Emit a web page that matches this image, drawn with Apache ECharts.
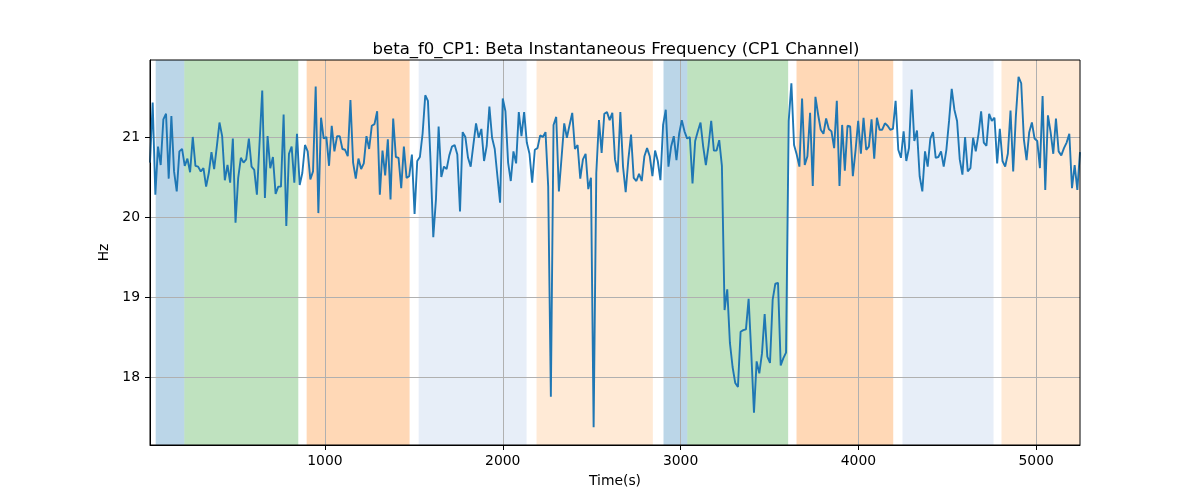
<!DOCTYPE html>
<html>
<head>
<meta charset="utf-8">
<script src="https://cdn.jsdelivr.net/npm/echarts@6/dist/echarts.min.js"></script>
<style>
html,body{margin:0;padding:0;background:#fff;}
#chart{width:1200px;height:500px;}
</style>
</head>
<body>
<div id="chart"></div>
<script>
// Sampling grid of the instantaneous-frequency trace (seconds)
const T0 = 16;
const DT = 15.03;

// Beta instantaneous frequency (Hz), one value per sample
const VALUES = [
  20.68, 21.43, 20.28, 20.88, 20.65, 21.22, 21.29, 20.48, 21.26, 20.57,
  20.32, 20.82, 20.85, 20.64, 20.73, 20.56, 21.00, 20.64, 20.63, 20.57,
  20.61, 20.38, 20.55, 20.81, 20.60, 20.88, 21.18, 21.01, 20.46, 20.65,
  20.43, 20.98, 19.93, 20.49, 20.74, 20.68, 20.72, 20.98, 20.63, 20.59,
  20.28, 20.93, 21.58, 20.24, 21.01, 20.61, 20.75, 20.29, 20.38, 20.38,
  21.28, 19.89, 20.79, 20.88, 20.43, 21.04, 20.40, 20.55,

  20.90, 20.82, 20.47, 20.57, 21.63, 20.05, 21.24, 20.98, 21.00, 20.64,
  21.14, 20.82, 21.01, 21.01, 20.85, 20.84, 20.76, 21.46, 20.68, 20.48,
  20.73, 20.60, 20.67, 21.01, 20.85, 21.14, 21.16, 21.32, 20.28, 20.83,
  20.52, 20.97, 20.22, 21.23, 20.75, 20.74, 20.36, 20.88, 20.49, 20.51,
  20.78, 20.04, 20.70, 20.75, 21.04, 21.52, 21.45, 20.68, 19.75, 20.22,
  21.13, 20.50, 20.63, 20.60, 20.77, 20.88,

  20.90, 20.78, 20.07, 21.06, 21.00, 20.74, 20.63, 20.90, 21.17, 20.99,
  21.10, 20.70, 20.89, 21.38, 20.99, 20.85, 20.51, 20.18, 21.48, 21.32,
  20.68, 20.45, 20.82, 20.67, 21.31, 21.01, 21.31, 20.93, 20.79, 20.43,
  20.84, 20.86, 21.02, 21.00, 21.06, 20.38, 17.76, 21.15, 21.25, 20.32,
  20.74, 21.17, 20.99, 21.15, 21.30, 20.85, 20.90, 20.48, 20.72, 20.79,
  20.35, 20.49, 17.38, 20.55, 21.21, 20.80,

  21.29, 21.31, 21.21, 21.30, 20.72, 20.56, 21.31, 20.63, 20.31, 20.72,
  21.03, 20.49, 20.45, 20.54, 20.45, 20.76, 20.86, 20.76, 20.51, 20.83,
  20.70, 20.46, 21.15, 21.34, 20.63, 20.88, 21.01, 20.71, 21.04, 21.21,
  21.07, 20.98, 21.00, 20.42, 20.95, 21.07, 21.18, 20.88, 20.65, 20.89,
  21.20, 20.83, 20.83, 20.96, 20.64, 18.84, 19.10, 18.43, 18.13, 17.93,
  17.88, 18.57, 18.59, 18.60, 18.98,

  18.30, 17.56, 18.20, 18.05, 18.30, 18.79, 18.26, 18.18, 18.97, 19.17,
  19.18, 18.15, 18.24, 18.31, 21.20, 21.67, 20.90, 20.78, 20.63, 21.48,
  20.65, 20.76, 21.30, 20.39, 21.50, 21.28, 21.09, 21.04, 21.23, 21.10,
  21.07, 20.86, 21.45, 20.39, 21.15, 20.58, 21.14, 21.13, 20.51, 20.83,
  21.20, 20.79, 21.24, 20.84, 20.88, 21.22, 20.73, 21.24, 21.09, 21.09,
  21.17, 21.14, 21.09, 21.10, 21.45, 20.84, 20.74, 21.07,

  20.70, 20.86, 21.59, 20.95, 21.08, 20.51, 20.32, 20.82, 20.63, 20.98,
  21.06, 20.74, 20.75, 20.82, 20.63, 20.84, 21.20, 21.60, 21.34, 21.20,
  20.72, 20.53, 21.00, 20.57, 20.61, 20.99, 20.82, 21.03, 21.32, 20.93,
  20.89, 21.29, 21.20, 21.24, 20.67, 21.10, 20.70, 20.63, 20.79, 21.33,
  20.57, 21.26, 21.75, 21.67, 20.97, 20.71, 21.06, 21.18, 20.98, 20.95,
  20.61, 21.51, 20.34, 21.27, 21.06, 20.79, 21.23, 20.82, 20.77, 20.86,
  20.93, 21.04, 20.36, 20.65, 20.34, 20.81
];

// Shaded epochs: start (s), end (s), colour key
const BAND_START = [48, 209, 897, 1527, 2190, 2904, 3038, 3652, 4248, 4805];
const BAND_END   = [209, 850, 1476, 2134, 2844, 3038, 3605, 4196, 4760, 5245];
const BAND_KIND  = ['blue', 'green', 'orange', 'lightblue', 'lightorange',
                    'blue', 'green', 'orange', 'lightblue', 'lightorange'];

// Tick labels
const X_TICKS = [1000, 2000, 3000, 4000, 5000];
const Y_TICKS = [18, 19, 20, 21];

const BAND_COLORS = {
  blue: 'rgba(31,119,180,0.3)',
  green: 'rgba(44,160,44,0.3)',
  orange: 'rgba(255,127,14,0.3)',
  lightblue: 'rgba(174,199,232,0.3)',
  lightorange: 'rgba(255,187,120,0.3)'
};

const lineData = VALUES.map((v, i) => [T0 + i * DT, v]);
const xMin = lineData[0][0];
const xMax = lineData[lineData.length - 1][0];

const bandData = BAND_START.map((s, i) => [
  { xAxis: s, itemStyle: { color: BAND_COLORS[BAND_KIND[i]] } },
  { xAxis: Math.min(BAND_END[i], xMax) }
]);

const chart = echarts.init(document.getElementById('chart'), null, { renderer: 'canvas' });
const FONT = 'DejaVu Sans';

chart.setOption({
  animation: false,
  backgroundColor: '#ffffff',
  textStyle: { fontFamily: FONT },
  title: {
    text: 'beta_f0_CP1: Beta Instantaneous Frequency (CP1 Channel)',
    left: 611,
    top: 36,
    textAlign: 'center',
    textStyle: { fontFamily: FONT, fontSize: 16.5, fontWeight: 'normal', color: '#000' }
  },
  grid: {
    left: 150, top: 60, width: 930, height: 385,
    show: true, z: 10,
    borderColor: '#000', borderWidth: 1,
    backgroundColor: 'transparent'
  },
  xAxis: {
    type: 'value',
    min: xMin, max: xMax,
    z: 3,
    name: 'Time(s)',
    nameLocation: 'middle',
    nameGap: 29,
    nameTextStyle: { fontFamily: FONT, fontSize: 13.9, color: '#000' },
    axisLine: { show: true, onZero: false, lineStyle: { color: '#000', width: 1 } },
    axisTick: { show: true, inside: false, length: 5, customValues: X_TICKS, lineStyle: { color: '#000', width: 1 } },
    axisLabel: { customValues: X_TICKS, margin: 9, fontFamily: FONT, fontSize: 13.9, color: '#000',
                 formatter: (v) => String(Math.round(v)) },
    splitLine: { show: true, lineStyle: { color: '#b0b0b0', width: 1 } }
  },
  yAxis: {
    type: 'value',
    min: 17.157, max: 21.96,
    z: 3,
    name: 'Hz',
    nameLocation: 'middle',
    nameGap: 34,
    nameRotate: 90,
    nameTextStyle: { fontFamily: FONT, fontSize: 13.9, color: '#000' },
    axisLine: { show: true, onZero: false, lineStyle: { color: '#000', width: 1 } },
    axisTick: { show: true, inside: false, length: 5, customValues: Y_TICKS, lineStyle: { color: '#000', width: 1 } },
    axisLabel: { customValues: Y_TICKS, margin: 10, fontFamily: FONT, fontSize: 13.9, color: '#000',
                 formatter: (v) => String(Math.round(v)) },
    splitLine: { show: true, lineStyle: { color: '#b0b0b0', width: 1 } }
  },
  series: [
    {
      type: 'line',
      z: 1,
      data: [],
      silent: true,
      markArea: { silent: true, data: bandData }
    },
    {
      type: 'line',
      z: 5,
      data: lineData,
      showSymbol: false,
      symbol: 'none',
      lineStyle: { color: '#1f77b4', width: 1.9 },
      itemStyle: { color: '#1f77b4' }
    }
  ]
});
</script>
</body>
</html>
